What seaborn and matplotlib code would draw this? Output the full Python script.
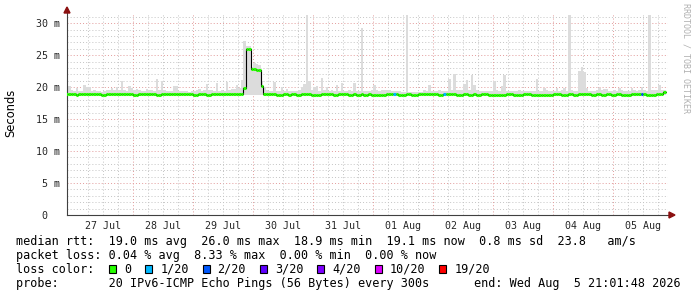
import numpy as np
import pandas as pd
import matplotlib
matplotlib.use("Agg")
import matplotlib.pyplot as plt
import seaborn as sns
from matplotlib.patches import Rectangle, Polygon

# ---------------- data (hourly bins, hours relative to 27 Jul 00:00) ----------------
first_hour = -3
smoke_jul26 = [19.4, 20.2, 19.5]
smoke_jul27 = [19.4, 19.9, 19.4, 19.4, 20.3, 20.0, 20.0, 19.4, 19.5, 19.4, 19.4, 19.3,
               19.4, 19.5, 19.6, 19.9, 19.5, 20.0, 19.5, 21.0, 19.6, 19.4, 20.2, 19.8]
smoke_jul28 = [19.5, 19.7, 19.5, 19.4, 19.4, 19.7, 19.6, 19.5, 19.4, 21.3, 19.6, 21.0,
               19.5, 19.4, 19.4, 19.4, 20.2, 20.2, 19.4, 19.4, 19.4, 19.4, 19.3, 19.4]
smoke_jul29 = [19.4, 19.6, 19.7, 19.4, 19.5, 20.5, 19.5, 19.6, 19.4, 20.7, 19.4, 19.5,
               19.4, 20.8, 19.5, 19.7, 19.7, 20.3, 19.8, 21.1, 27.2, 26.5, 26.5, 23.2]
smoke_jul30 = [23.8, 23.7, 23.4, 21.0, 20.1, 19.5, 19.4, 19.4, 20.8, 19.4, 19.4, 20.0,
               19.4, 19.7, 19.4, 19.4, 19.4, 19.4, 19.6, 20.0, 20.5, 31.3, 21.0, 19.5]
smoke_jul31 = [20.0, 20.2, 19.4, 21.4, 19.5, 20.0, 19.4, 19.5, 19.4, 20.3, 19.4, 20.7,
               19.4, 19.4, 19.5, 19.4, 20.7, 19.4, 19.4, 29.2, 19.4, 19.4, 19.4, 19.5]
smoke_aug01 = [20.3, 19.5, 19.4, 19.6, 19.6, 19.6, 19.6, 19.4, 19.4, 19.4, 19.4, 19.3,
               19.3, 31.3, 19.3, 19.3, 19.3, 19.3, 19.3, 19.3, 19.5, 19.4, 20.3, 19.4]
smoke_aug02 = [19.4, 19.4, 19.5, 19.4, 19.4, 19.4, 21.3, 19.5, 22.0, 19.5, 19.5, 19.5,
               20.5, 21.1, 19.5, 21.9, 20.3, 19.5, 19.4, 19.4, 19.4, 19.4, 19.4, 19.4]
smoke_aug03 = [21.0, 19.5, 19.4, 20.2, 21.9, 19.4, 19.4, 19.4, 19.4, 19.4, 19.6, 19.4,
               19.4, 19.4, 19.4, 19.4, 19.4, 21.2, 19.4, 19.4, 19.8, 19.5, 19.4, 19.4]
smoke_aug04 = [19.4, 19.9, 19.4, 19.5, 19.9, 19.4, 31.3, 19.6, 19.4, 19.4, 22.6, 23.1,
               22.4, 19.9, 19.4, 19.4, 19.4, 19.5, 19.9, 19.5, 19.7, 19.7, 19.4, 19.4]
smoke_aug05 = [19.5, 19.4, 19.9, 19.5, 19.4, 19.4, 19.4, 19.9, 19.5, 19.4, 19.5, 20.1,
               19.5, 19.4, 31.3, 19.5, 19.5, 19.5, 20.3, 19.6, 19.5]
smoke_floor = 18.8

d = 18.85
med_jul26 = [19.0, 19.0, 19.0]
med_jul27 = [19.0, d, 19.0, 19.0, 19.0, 19.0, 19.0, 19.0, 19.0, 19.0, 19.0, d,
             d, 19.0, 19.0, 19.0, 19.0, 19.0, 19.0, 19.0, 19.0, 19.0, 19.0, 19.0]
med_jul28 = [d, d, 19.0, 19.0, 19.0, 19.0, 19.0, 19.0, 19.0, d, d, 19.0,
             19.0, 19.0, 19.0, 19.0, 19.0, 19.0, 19.0, 19.0, 19.0, 19.0, 19.0, 19.0]
med_jul29 = [d, d, 19.0, 19.0, 19.0, d, d, 19.0, 19.0, 19.0, 19.0, 19.0,
             19.0, 19.0, 19.0, 19.0, 19.0, 19.0, 19.0, 19.0, 19.8, 26.0, 26.0, 22.9]
med_jul30 = [22.9, 22.7, 22.7, 20.2, 19.0, 19.0, 19.0, 19.0, 19.0, d, d, d,
             19.0, 19.0, d, 19.0, 19.0, d, d, 19.0, 19.0, 19.0, 19.0, d]
med_jul31 = [d, d, d, 19.0, 19.0, 19.0, 19.0, 19.0, d, d, 19.0, 19.0,
             19.0, 19.0, d, d, 19.0, d, d, 19.0, d, d, 19.0, d]
med_aug01 = [d, d, d, d, d, 19.0, 19.0, 19.0, 19.0, 19.0, d, d,
             d, 19.0, 19.0, d, d, d, 19.0, 19.0, 19.0, 19.0, 19.0, 19.0]
med_aug02 = [19.0, 19.0, d, d, 19.0, 19.0, 19.0, 19.0, 19.0, d, d, d,
             19.0, 19.0, d, d, 19.0, d, d, 19.0, 19.0, 19.0, d, d]
med_aug03 = [d, d, d, d, d, 19.0, 19.0, 19.0, d, d, d, d,
             19.0, 19.0, 19.0, d, d, d, d, d, d, d, d, d]
med_aug04 = [19.0, 19.0, 19.0, d, d, d, 19.0, 19.0, d, d, 19.0, 19.0,
             19.0, 19.0, 19.0, d, d, 19.0, 19.0, d, d, 19.0, 19.0, d]
med_aug05 = [d, 19.0, 19.0, d, d, d, d, 19.0, 19.0, 19.0, 19.0, 19.0,
             19.0, d, d, d, d, 19.0, 19.0, 19.0, 19.2]

loss_hours = [128, 148, 227]
loss_index = [1, 1, 2]

loss_labels = ['0', '1/20', '2/20', '3/20', '4/20', '10/20', '19/20']
loss_colors = ['#26ff00', '#00b8ff', '#0059ff', '#5e00ff', '#7e00ff', '#dd00ff', '#ff0000']

day_labels = ['27 Jul', '28 Jul', '29 Jul', '30 Jul', '31 Jul',
              '01 Aug', '02 Aug', '03 Aug', '04 Aug', '05 Aug']
y_ticks = [0, 5, 10, 15, 20, 25, 30]
y_labels = ['0  ', '5 m', '10 m', '15 m', '20 m', '25 m', '30 m']

legend_lines = [
    "median rtt:  19.0 ms avg  26.0 ms max  18.9 ms min  19.1 ms now  0.8 ms sd  23.8   am/s",
    "packet loss: 0.04 % avg  8.33 % max  0.00 % min  0.00 % now",
]
probe_text = "probe:       20 IPv6-ICMP Echo Pings (56 Bytes) every 300s"
end_text = "end: Wed Aug  5 21:01:48 2026"

smoke = (smoke_jul26 + smoke_jul27 + smoke_jul28 + smoke_jul29 + smoke_jul30 +
         smoke_jul31 + smoke_aug01 + smoke_aug02 + smoke_aug03 + smoke_aug04 + smoke_aug05)
median = (med_jul26 + med_jul27 + med_jul28 + med_jul29 + med_jul30 +
          med_jul31 + med_aug01 + med_aug02 + med_aug03 + med_aug04 + med_aug05)
df = pd.DataFrame({'hour': first_hour + np.arange(len(median)),
                   'median': median, 'smoke': smoke})
df['loss'] = 0
for h, li in zip(loss_hours, loss_index):
    df.loc[df['hour'] == h, 'loss'] = li

# ---------------- figure ----------------
sns.set_theme(style="white")
plt.rcParams['font.family'] = ['DejaVu Sans Mono', 'DejaVu Sans']

W, H = 697, 297
fig = plt.figure(figsize=(W / 100, H / 100), dpi=100)
fig.patch.set_facecolor('white')
L, R, T, B = 67, 668, 13, 215
ax = fig.add_axes([L / W, 1 - B / H, (R - L) / W, (B - T) / H])
ax.set_facecolor('white')
ax.set_xlim(-2.4, 238)
ax.set_ylim(0, 31.6)

def fx(x):
    return x / W

def fy(y):
    return 1 - y / H

# grid
minor_c = '#c4c4c4'
major_c = '#e29a9a'
dot = (0, (1.0, 2.2))
for v in np.arange(1, 32):
    if v % 5:
        ax.axhline(v, color=minor_c, lw=0.7, ls=dot, zorder=0)
for v in np.arange(5, 32, 5):
    ax.axhline(v, color=major_c, lw=0.7, ls=dot, zorder=0)
for hh in np.arange(0, 238, 6):
    if hh % 24:
        ax.axvline(hh, color=minor_c, lw=0.7, ls=dot, zorder=0)
for hh in np.arange(24, 238, 24):
    ax.axvline(hh, color=major_c, lw=0.7, ls=dot, zorder=0)

# smoke
ax.bar(df['hour'], df['smoke'] - smoke_floor, bottom=smoke_floor, width=1.0,
       align='edge', color='#dcdcdc', linewidth=0, zorder=1)

# median (black thin step line) + loss coloured segments
step = pd.DataFrame({'hour': list(df['hour']) + [df['hour'].iloc[-1] + 1],
                     'median': list(df['median']) + [df['median'].iloc[-1]]})
sns.lineplot(data=step, x='hour', y='median', drawstyle='steps-post',
             color='black', lw=0.8, ax=ax, zorder=2)
ax.hlines(df['median'], df['hour'], df['hour'] + 1,
          colors=[loss_colors[i] for i in df['loss']], lw=2.2, zorder=3,
          capstyle='butt')

# axes decoration
ax.set_xlabel('')
ax.set_ylabel('')
for s in ['top', 'right']:
    ax.spines[s].set_visible(False)
for s in ['left', 'bottom']:
    ax.spines[s].set_color('#404040')
    ax.spines[s].set_linewidth(0.8)

ax.set_xticks([12 + 24 * i for i in range(len(day_labels))])
ax.set_xticklabels(day_labels, fontsize=7.2, family='DejaVu Sans Mono')
ax.tick_params(axis='x', length=0, pad=4)
ax.set_xticks(np.arange(0, 238, 6), minor=True)
ax.tick_params(axis='x', which='minor', length=2, direction='out', color='#707070', width=0.6)

ax.set_yticks(y_ticks)
ax.set_yticklabels(y_labels, fontsize=7.2, family='DejaVu Sans Mono')
ax.set_yticks(np.arange(0, 32, 1), minor=True)
ax.tick_params(axis='y', which='major', length=4, direction='inout', color='#505050', width=0.6, pad=3)
ax.tick_params(axis='y', which='minor', length=3, direction='inout', color='#909090', width=0.6)

# arrows
arrow_c = '#8b1010'
fig.add_artist(Polygon([[fx(64), fy(13)], [fx(70), fy(13)], [fx(67), fy(7)]],
                       closed=True, color=arrow_c, transform=fig.transFigure))
fig.add_artist(Polygon([[fx(669), fy(212)], [fx(669), fy(218)], [fx(675), fy(215)]],
                       closed=True, color=arrow_c, transform=fig.transFigure))

# y label & watermark
fig.text(fx(11), fy(113), 'Seconds', rotation=90, ha='center', va='center',
         fontsize=8.3, family='DejaVu Sans', color='#000000')
fig.text(fx(686), fy(58), 'RRDTOOL / TOBI OETIKER', rotation=270, ha='center', va='center',
         fontsize=6.0, family='DejaVu Sans Mono', color='#b0b0b0')

# legend text
fs = 8.45
cw = 0.6021 * fs * 100 / 72
x0 = 16
baselines = [245, 259, 273, 287]
for line, yb in zip(legend_lines, baselines[:2]):
    fig.text(fx(x0), fy(yb), line, ha='left', va='baseline', fontsize=fs,
             family='DejaVu Sans Mono', color='black')
fig.text(fx(x0), fy(baselines[2]), 'loss color:', ha='left', va='baseline', fontsize=fs,
         family='DejaVu Sans Mono', color='black')
bx = 109
for lab, col in zip(loss_labels, loss_colors):
    fig.add_artist(Rectangle((fx(bx), fy(273)), 7 / W, 8 / H, facecolor=col,
                             edgecolor='black', lw=0.8, transform=fig.transFigure))
    tx = bx + 15
    fig.text(fx(tx), fy(baselines[2]), lab, ha='left', va='baseline', fontsize=fs,
             family='DejaVu Sans Mono', color='black')
    bx = tx + (len(lab) + 2) * cw
fig.text(fx(x0), fy(baselines[3]), probe_text, ha='left', va='baseline', fontsize=fs,
         family='DejaVu Sans Mono', color='black')
fig.text(fx(681), fy(baselines[3]), end_text, ha='right', va='baseline', fontsize=fs,
         family='DejaVu Sans Mono', color='black')

fig.savefig('out.png', dpi=100, facecolor='white')
